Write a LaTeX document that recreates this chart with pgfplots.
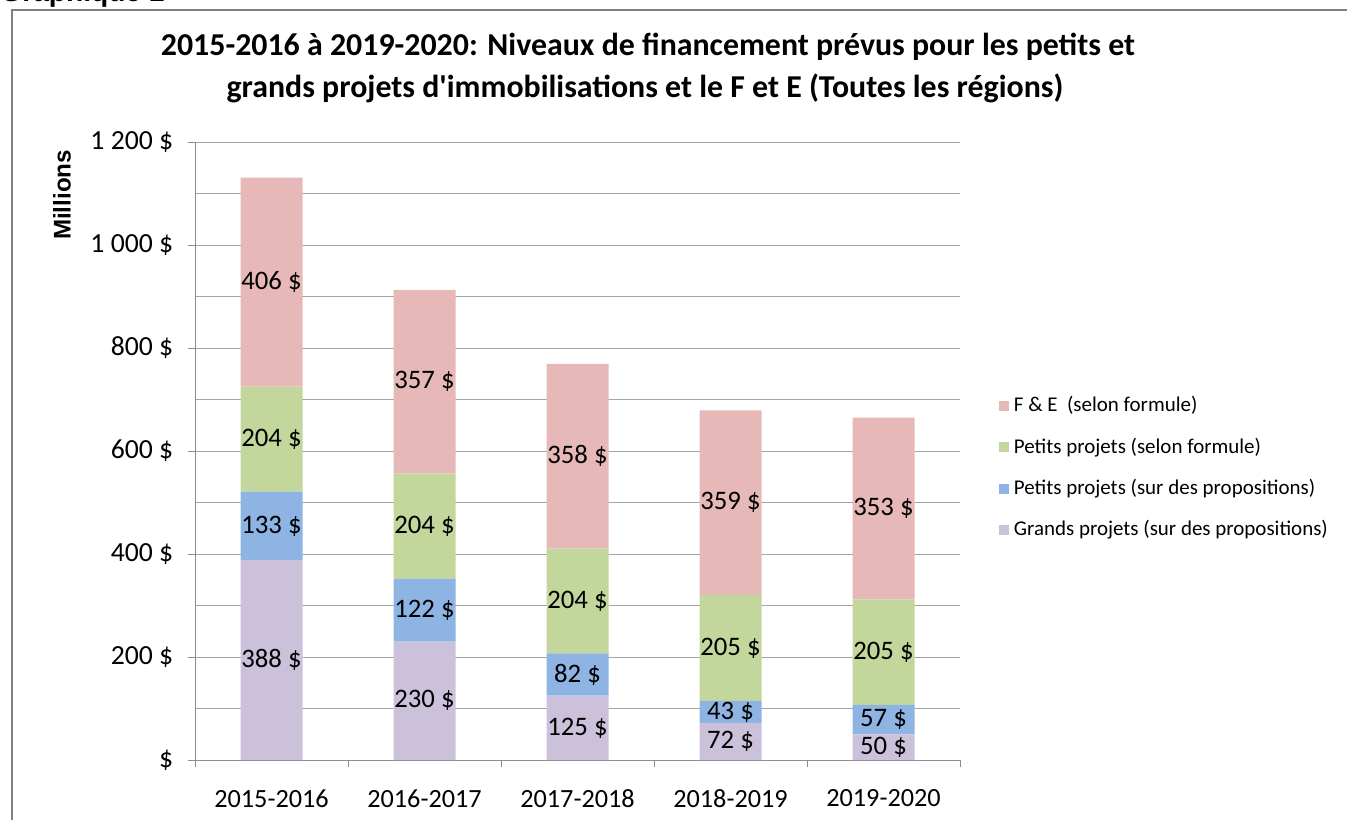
\documentclass[border=0pt]{standalone}
\usepackage{pgfplots}
\pgfplotsset{compat=1.18}
\usepackage{pgfplotstable}
\usepackage{fontspec}
\setmainfont{Carlito}
\newfontfamily\arialfont{Liberation Sans}
\definecolor{cFE}{HTML}{E6B9B8}
\definecolor{cPF}{HTML}{C3D69B}
\definecolor{cPP}{HTML}{8EB4E3}
\definecolor{cGP}{HTML}{CCC1DA}
\definecolor{gridc}{HTML}{A6A6A6}
\definecolor{axc}{HTML}{8C8C8C}
\pgfplotstableread{
x grands petitsprop petitsform fe
0 388 133 204 406
1 230 122 204 357
2 125 82 204 358
3 72 43 205 359
4 50 57 205 353
}\data
\pgfplotsset{seglabel/.style={
  visualization depends on={\thisrow{#1}\as\myval},
  nodes near coords={\pgfmathprintnumber{\myval}~\$},
  every node near coord/.append style={anchor=center, font=\fontsize{11.4}{13}\selectfont, text=black, inner sep=0pt}
}}
\begin{document}
\begin{tikzpicture}
\useasboundingbox (0,0) rectangle (20.205,12.285);
\clip (0,0) rectangle (20.205,12.285);
\draw[color=gray, line width=0.35mm] (0.18,-1) |- (21,12.135);
\node[anchor=base west, font=\arialfont\bfseries\fontsize{12}{14}\selectfont, inner sep=0pt] at (0.0,12.255) {Graphique 1};
\node[font=\bfseries\fontsize{13.6}{15}\selectfont] at (9.72,11.58) {2015-2016 à 2019-2020: Niveaux de financement prévus pour les petits et};
\node[font=\bfseries\fontsize{13.6}{15}\selectfont] at (9.675,10.965) {grands projets d\textquotesingle immobilisations et le F et E (Toutes les régions)};
\node[rotate=90, font=\arialfont\bfseries\fontsize{10.3}{12}\selectfont] at (0.93,9.36) {Millions};
\begin{axis}[
  at={(2.925cm,0.885cm)}, anchor=south west,
  scale only axis, width=11.475cm, height=9.27cm,
  ybar stacked, bar width=0.93cm,
  xmin=-0.5, xmax=4.5, ymin=0, ymax=1200,
  axis x line*=bottom, axis y line*=left,
  axis line style={draw=axc},
  xtick={-0.5,0.5,1.5,2.5,3.5,4.5},
  xticklabels={2015-2016,2016-2017,2017-2018,2018-2019,2019-2020,},
  xticklabel style={xshift=1.1475cm, yshift=-0.21cm, font=\fontsize{11.2}{13}\selectfont},
  ytick={0,200,...,1200},
  yticklabels={\$, 200~\$, 400~\$, 600~\$, 800~\$, 1~000~\$, 1~200~\$},
  yticklabel style={xshift=-0.1cm, font=\fontsize{11.8}{13}\selectfont},
  minor ytick={100,300,...,1100},
  ymajorgrids, yminorgrids,
  grid style={draw=gridc},
  minor tick length=0pt, major tick length=1.05mm, tick align=outside,
  tick style={draw=axc},
  /pgf/number format/assume math mode=true,
  legend image code/.code={\fill[#1,draw=none] (0cm,-0.075cm) rectangle (0.15cm,0.075cm);},
  reverse legend,
  legend cell align=left,
  legend style={draw=none, fill=none, at={(1.0415,0.4725)}, anchor=west, row sep=5.6pt, font=\fontsize{8.95}{10.5}\selectfont},
]
\addplot[fill=cGP, draw=none, seglabel=grands] table[x=x, y=grands] {\data};
\addlegendentry{Grands projets (sur des propositions)}
\addplot[fill=cPP, draw=none, seglabel=petitsprop] table[x=x, y=petitsprop] {\data};
\addlegendentry{Petits projets (sur des propositions)}
\addplot[fill=cPF, draw=none, seglabel=petitsform] table[x=x, y=petitsform] {\data};
\addlegendentry{Petits projets (selon formule)}
\addplot[fill=cFE, draw=none, seglabel=fe] table[x=x, y=fe] {\data};
\addlegendentry{F \& E\ \ (selon formule)}
\end{axis}
\end{tikzpicture}
\end{document}
